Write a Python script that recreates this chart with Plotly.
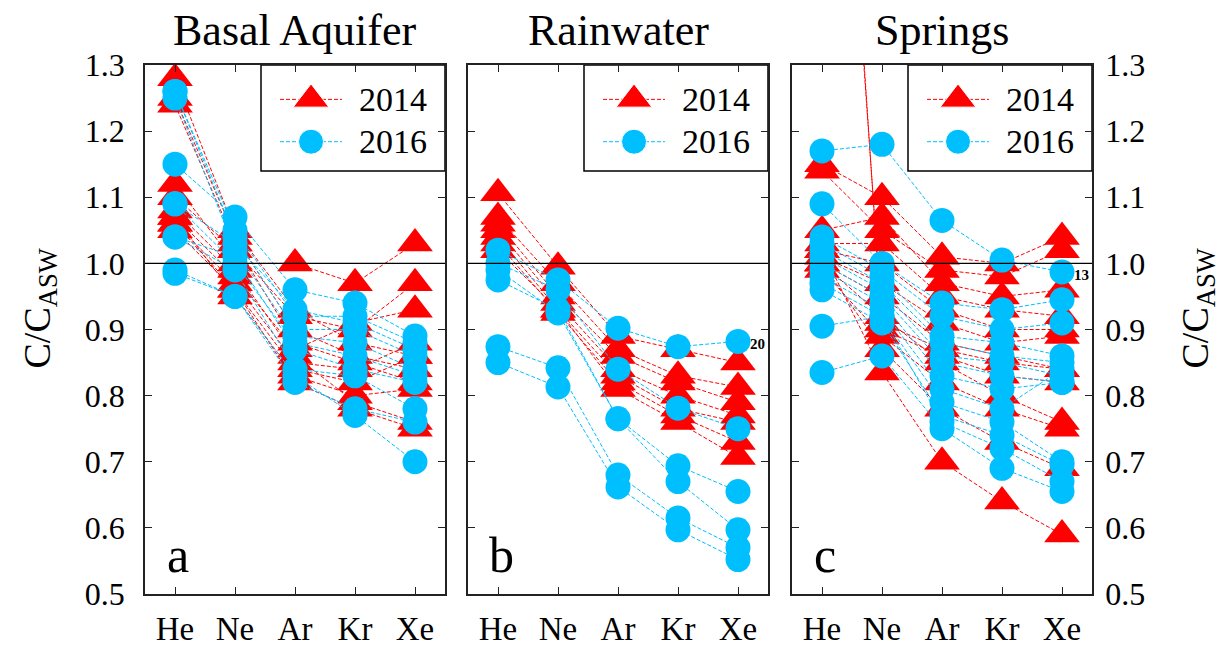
import plotly.graph_objects as go

# Noble gas concentrations normalised to air-saturated water (C/C_ASW)
elements = ["He", "Ne", "Ar", "Kr", "Xe"]
panel_titles = ["Basal Aquifer", "Rainwater", "Springs"]
panel_letters = ["a", "b", "c"]
y_ticks = [0.5, 0.6, 0.7, 0.8, 0.9, 1.0, 1.1, 1.2, 1.3]
years = ["2014", "2016"]

basal_2014 = [
    [1.28, 1.05, 0.93, 0.88, 0.86],
    [1.25, 1.04, 0.90, 0.86, 0.84],
    [1.24, 1.03, 0.88, 0.85, 0.82],
    [1.12, 1.00, 1.00, 0.97, 1.03],
    [1.10, 1.02, 0.92, 0.90, 0.97],
    [1.07, 0.98, 0.87, 0.91, 0.93],
    [1.06, 0.97, 0.85, 0.84, 0.88],
    [1.05, 0.96, 0.84, 0.82, 0.86],
    [1.07, 0.95, 0.83, 0.80, 0.81],
    [1.08, 0.99, 0.86, 0.79, 0.76],
    [1.06, 0.96, 0.82, 0.78, 0.75],
]
basal_2016 = [
    [1.26, 1.05, 0.92, 0.92, 0.88],
    [1.26, 1.04, 0.90, 0.90, 0.86],
    [1.25, 1.02, 0.89, 0.88, 0.84],
    [1.15, 1.07, 0.96, 0.94, 0.89],
    [1.09, 1.03, 0.93, 0.91, 0.87],
    [1.09, 1.00, 0.88, 0.86, 0.83],
    [1.04, 1.01, 0.87, 0.84, 0.82],
    [1.04, 0.99, 0.84, 0.83, 0.78],
    [0.99, 0.95, 0.82, 0.78, 0.76],
    [0.985, 0.95, 0.83, 0.77, 0.70],
]
rain_2014 = [
    [1.106, 0.995, 0.89, 0.87, 0.85],
    [1.07, 0.97, 0.87, 0.83, 0.813],
    [1.06, 0.95, 0.86, 0.82, 0.79],
    [1.05, 0.94, 0.84, 0.80, 0.77],
    [1.04, 0.93, 0.83, 0.78, 0.76],
    [1.03, 0.925, 0.82, 0.77, 0.73],
    [1.02, 0.93, 0.81, 0.76, 0.707],
]
rain_2016 = [
    [1.02, 0.975, 0.902, 0.874, 0.882],
    [1.00, 0.96, 0.84, 0.781, 0.75],
    [0.975, 0.93, 0.765, 0.694, 0.655],
    [0.99, 0.925, 0.765, 0.67, 0.597],
    [0.874, 0.842, 0.68, 0.615, 0.57],
    [0.85, 0.813, 0.662, 0.597, 0.552],
]
springs_2014 = [
    [2.20, 0.91, 0.87, 0.85, 0.84],
    [2.25, 0.90, 0.86, 0.83, 0.82],
    [1.15, 1.10, 1.01, 1.00, 1.04],
    [1.14, 1.05, 0.99, 0.98, 1.02],
    [1.05, 1.07, 0.97, 0.95, 0.96],
    [1.03, 1.03, 0.95, 0.93, 0.92],
    [1.02, 1.00, 0.93, 0.90, 0.90],
    [1.01, 0.97, 0.91, 0.88, 0.89],
    [1.00, 0.95, 0.88, 0.86, 0.84],
    [1.00, 0.92, 0.85, 0.80, 0.76],
    [0.99, 0.89, 0.82, 0.78, 0.75],
    [1.00, 0.87, 0.78, 0.73, 0.69],
    [1.02, 0.835, 0.70, 0.64, 0.59],
]
springs_2016 = [
    [1.17, 1.18, 1.065, 1.005, 0.987],
    [1.09, 1.00, 0.94, 0.93, 0.945],
    [1.04, 0.99, 0.92, 0.90, 0.91],
    [1.03, 0.98, 0.89, 0.88, 0.86],
    [1.02, 0.97, 0.88, 0.86, 0.85],
    [1.01, 0.96, 0.86, 0.85, 0.83],
    [1.00, 0.95, 0.85, 0.83, 0.82],
    [0.99, 0.94, 0.83, 0.81, 0.82],
    [0.98, 0.93, 0.81, 0.78, 0.84],
    [0.97, 0.92, 0.79, 0.76, 0.70],
    [0.96, 0.91, 0.77, 0.74, 0.695],
    [0.905, 0.92, 0.76, 0.72, 0.67],
    [0.835, 0.86, 0.75, 0.69, 0.655],
]

# sample labels: (panel index, element index, value, text)
sample_labels = [(1, 4, 0.882, "20"), (2, 4, 0.987, "13")]

panels = [(basal_2014, basal_2016), (rain_2014, rain_2016), (springs_2014, springs_2016)]

FONT = "Liberation Serif, Times New Roman, Times, serif"
RED = "#FF0000"
BLUE = "#00BFFF"
styles = {
    "2014": dict(color=RED, symbol="triangle-up", size=31),
    "2016": dict(color=BLUE, symbol="circle", size=25),
}

W, H = 1229, 647
x_px = [(145, 445), (468, 768), (792, 1092)]
y_top, y_bot = 65, 594
y_dom = [(H - y_bot) / H, (H - y_top) / H]

fig = go.Figure()
x_pos = list(range(len(elements)))

for p, (s14, s16) in enumerate(panels):
    xa = "x" if p == 0 else f"x{p + 1}"
    ya = "y" if p == 0 else f"y{p + 1}"
    for year, series in (("2014", s14), ("2016", s16)):
        st = styles[year]
        for vals in series:
            fig.add_trace(go.Scatter(
                x=x_pos, y=vals, xaxis=xa, yaxis=ya, mode="lines+markers",
                line=dict(color=st["color"], width=1, dash="4px,2px"),
                marker=dict(color=st["color"], symbol=st["symbol"], size=st["size"], opacity=1),
                showlegend=False, hoverinfo="skip", cliponaxis=True,
            ))
    # legend key drawn inside the panel
    for row, year in enumerate(years):
        st = styles[year]
        ky = 1.248 - row * 0.064
        fig.add_trace(go.Scatter(
            x=[1.75, 2.267, 2.783], y=[ky] * 3, xaxis=xa, yaxis=ya, mode="lines+markers",
            line=dict(color=st["color"], width=1, dash="4px,2px"),
            marker=dict(color=st["color"], symbol=st["symbol"], size=[0, st["size"], 0], opacity=1),
            showlegend=False, hoverinfo="skip",
        ))
        fig.add_annotation(
            x=212 / 300, xref=f"{xa} domain", y=ky, yref=ya, text=year,
            showarrow=False, xanchor="left", yanchor="middle",
            font=dict(family=FONT, size=34, color="black"),
        )

layout = dict(
    template="none",
    width=W, height=H, margin=dict(l=0, r=0, t=0, b=0, pad=0, autoexpand=False),
    paper_bgcolor="white", plot_bgcolor="white", showlegend=False,
    font=dict(family=FONT, color="black"),
)
shapes = []
annotations = []
for p in range(3):
    sfx = "" if p == 0 else str(p + 1)
    xa, ya = f"x{sfx}", f"y{sfx}"
    x0, x1 = x_px[p]
    layout[f"xaxis{sfx}"] = dict(
        domain=[x0 / W, x1 / W], range=[-0.5, 4.5], anchor=ya, automargin=False,
        tickvals=x_pos, ticktext=elements, ticks="inside", ticklen=7, tickwidth=1.2,
        tickcolor="#222", showline=True, linecolor="#222", linewidth=1.8, mirror="ticks",
        showgrid=False, zeroline=False, tickfont=dict(family=FONT, size=33, color="black"),
        ticklabelstandoff=4, fixedrange=True,
    )
    layout[f"yaxis{sfx}"] = dict(
        domain=y_dom, range=[0.5, 1.3], anchor=xa, automargin=False,
        tickvals=y_ticks, ticktext=[f"{v:.1f}" for v in y_ticks],
        ticks="inside", ticklen=7, tickwidth=1.2, tickcolor="#222",
        showline=True, linecolor="#222", linewidth=1.8, mirror="ticks",
        showgrid=False, zeroline=False, tickfont=dict(family=FONT, size=32, color="black"),
        showticklabels=(p != 1), side=("right" if p == 2 else "left"),
        ticklabelstandoff=(5 if p == 2 else 12), fixedrange=True,
    )
    # unity reference line
    shapes.append(dict(type="line", xref=f"{xa} domain", x0=0, x1=1, yref=ya, y0=1.0, y1=1.0,
                       line=dict(color="black", width=1.3), layer="above"))
    # legend frame
    shapes.append(dict(type="rect", xref=f"{xa} domain", x0=116 / 300, x1=1,
                       yref=f"{ya} domain", y0=(y_bot - 171) / (y_bot - y_top), y1=1,
                       line=dict(color="black", width=1.5), fillcolor="white", layer="below"))
    annotations.append(dict(x=0.5, xref=f"{xa} domain", y=1 - 30 / H, yref="paper",
                            text=panel_titles[p], showarrow=False, yanchor="middle",
                            font=dict(family=FONT, size=44, color="black")))
    annotations.append(dict(x=33 / 300, xref=f"{xa} domain", y=(y_bot - 555) / (y_bot - y_top),
                            yref=f"{ya} domain", text=panel_letters[p], showarrow=False,
                            xanchor="center", yanchor="middle",
                            font=dict(family=FONT, size=50, color="black")))

for p, ei, val, txt in sample_labels:
    sfx = "" if p == 0 else str(p + 1)
    annotations.append(dict(x=x_pos[ei], xref=f"x{sfx}", y=val, yref=f"y{sfx}", text=f"<b>{txt}</b>",
                            showarrow=False, xshift=19, yshift=-3,
                            font=dict(family=FONT, size=15, color="black")))

ytitle = "C/C<sub>ASW</sub>"
for xp in (40, 1198):
    annotations.append(dict(x=xp / W, xref="paper", y=sum(y_dom) / 2 + 21 / H, yref="paper", text=ytitle,
                            textangle=-90, showarrow=False, xanchor="center", yanchor="middle",
                            font=dict(family=FONT, size=38, color="black")))

layout["shapes"] = shapes
fig.update_layout(**layout)
for a in annotations:
    fig.add_annotation(**a)

fig.write_html("out.html")
